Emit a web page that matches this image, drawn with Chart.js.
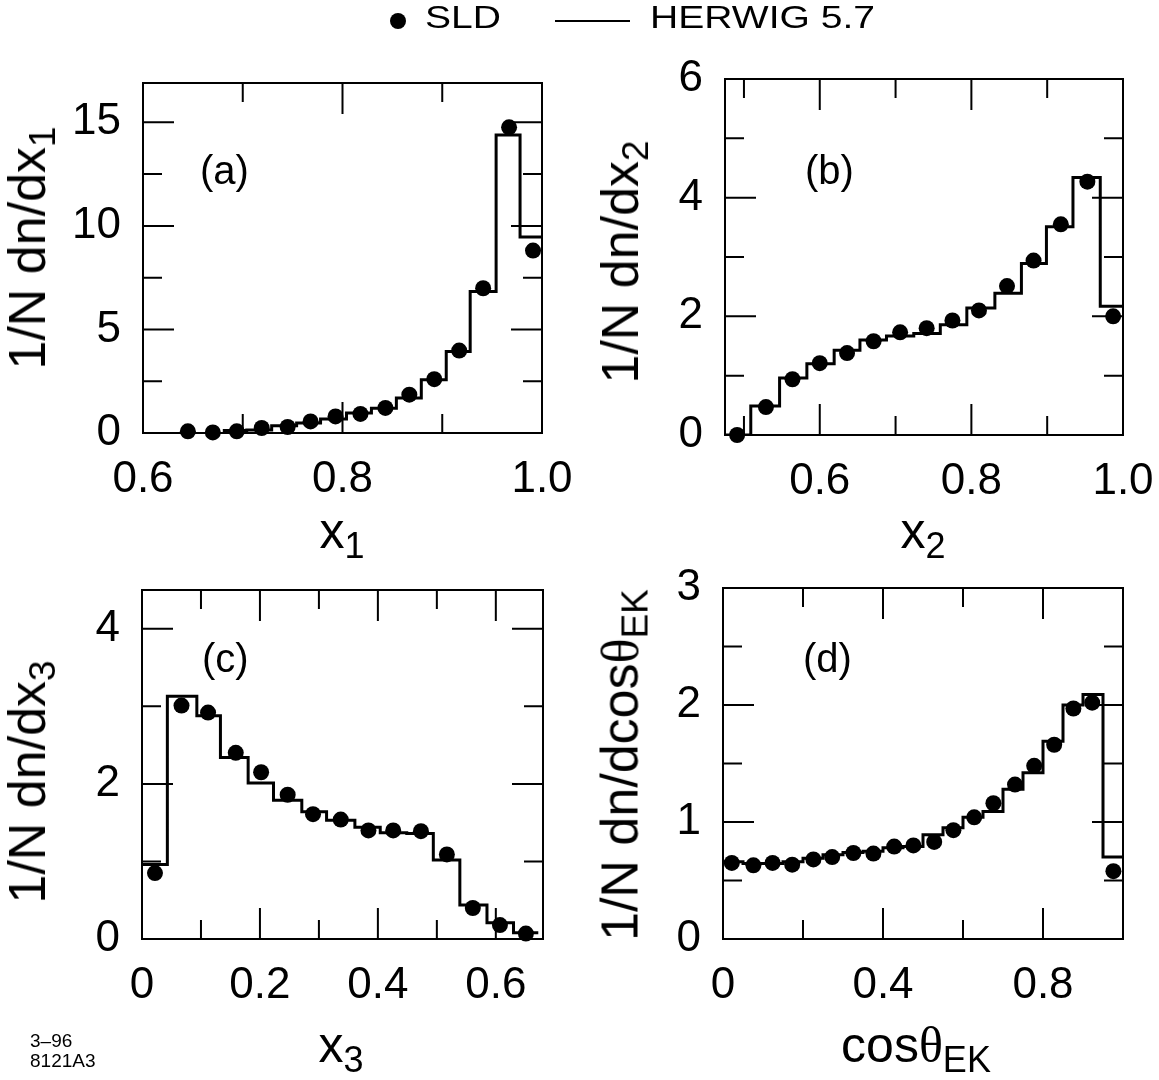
<!DOCTYPE html>
<html>
<head>
<meta charset="utf-8">
<script src="https://cdn.jsdelivr.net/npm/chart.js@4.4.0/dist/chart.umd.min.js"></script>
<style>
  html, body { margin: 0; padding: 0; background: #fff; }
  #page { position: relative; width: 1159px; height: 1080px; overflow: hidden;
          font-family: 'Liberation Sans', Arial, sans-serif; color: #000; }
  canvas { position: absolute; }
  .t { position: absolute; white-space: nowrap; line-height: 1; }
  .xt { font-size: 50px; transform: translateX(-50%); }
  .yt { font-size: 52px; transform: translate(-50%, -50%) rotate(-90deg); }
  .sub { font-size: 36px; line-height: 0; vertical-align: -10px; }
  .yt .sub { font-size: 37px; }
  .pl { font-size: 40px; }
  .leg { font-size: 31px; transform: scaleX(1.26); transform-origin: left top; }
  .small { font-size: 19px; }
  .th { font-family: 'Liberation Serif', 'Times New Roman', serif; }
</style>
</head>
<body>
<div id="page">
  <canvas id="chartA" width="620" height="540" style="left:0;top:0"></canvas>
  <canvas id="chartB" width="640" height="540" style="left:560px;top:0"></canvas>
  <canvas id="chartC" width="579" height="540" style="left:0;top:540px"></canvas>
  <canvas id="chartD" width="579" height="540" style="left:580px;top:540px"></canvas>

  <!-- legend -->
  <div style="position:absolute;left:390px;top:13px;width:16px;height:16px;border-radius:50%;background:#000"></div>
  <div class="t leg" style="left:425px;top:2px">SLD</div>
  <div style="position:absolute;left:555px;top:20px;width:75px;height:2px;background:#000"></div>
  <div class="t leg" style="left:650px;top:2px">HERWIG 5.7</div>

  <!-- panel labels -->
  <div class="t pl" style="left:200px;top:150px">(a)</div>
  <div class="t pl" style="left:805px;top:150px">(b)</div>
  <div class="t pl" style="left:202px;top:638px">(c)</div>
  <div class="t pl" style="left:803px;top:638px">(d)</div>

  <!-- axis titles -->
  <div class="t xt" style="left:342px;top:506px">x<span class="sub">1</span></div>
  <div class="t xt" style="left:923px;top:506px">x<span class="sub">2</span></div>
  <div class="t xt" style="left:341px;top:1020px">x<span class="sub">3</span></div>
  <div class="t xt" style="left:916px;top:1020px">cos<span class="th">θ</span><span class="sub">EK</span></div>

  <div class="t yt" style="left:27px;top:248px">1/N dn/dx<span class="sub">1</span></div>
  <div class="t yt" style="left:620px;top:262px">1/N dn/dx<span class="sub">2</span></div>
  <div class="t yt" style="left:27px;top:782px">1/N dn/dx<span class="sub">3</span></div>
  <div class="t yt" style="left:620px;top:765px">1/N dn/dcos<span class="th">θ</span><span class="sub">EK</span></div>

  <div class="t small" style="left:30px;top:1031px">3–96</div>
  <div class="t small" style="left:30px;top:1051px">8121A3</div>
</div>

<script>
// ---- (a) x1 ----
const x1Centers = [0.645, 0.670, 0.694, 0.719, 0.745, 0.768, 0.793, 0.818, 0.843, 0.867, 0.892, 0.917, 0.941, 0.967, 0.991];
const x1Sld     = [0.08, 0.03, 0.08, 0.24, 0.29, 0.56, 0.80, 0.92, 1.21, 1.85, 2.60, 3.98, 6.99, 14.76, 8.81];
const x1Edges   = [0.680, 0.704, 0.729, 0.754, 0.778, 0.804, 0.829, 0.854, 0.879, 0.904, 0.928, 0.954, 0.978, 1.0];
const x1Herwig  = [0.12, 0.15, 0.35, 0.48, 0.68, 0.96, 1.20, 1.69, 2.57, 3.94, 6.83, 14.39, 9.46];
const x1Ticks = [0.6, 0.8, 1.0], x1TickLabels = ['0.6', '0.8', '1.0'], x1Minor = [0.7, 0.9];
const y1Ticks = [0, 5, 10, 15], y1TickLabels = ['0', '5', '10', '15'], y1Minor = [2.5, 7.5, 12.5];

// ---- (b) x2 ----
const x2Centers = [0.491, 0.529, 0.564, 0.600, 0.636, 0.671, 0.706, 0.741, 0.775, 0.810, 0.847, 0.882, 0.918, 0.953, 0.987];
const x2Sld     = [0.0, 0.47, 0.94, 1.21, 1.38, 1.58, 1.73, 1.80, 1.93, 2.10, 2.51, 2.94, 3.55, 4.27, 2.00];
const x2Edges   = [0.475, 0.509, 0.547, 0.583, 0.619, 0.653, 0.688, 0.724, 0.759, 0.794, 0.831, 0.866, 0.899, 0.934, 0.970, 1.0];
const x2Herwig  = [0.0, 0.49, 0.96, 1.20, 1.43, 1.60, 1.67, 1.71, 1.86, 2.14, 2.39, 2.89, 3.51, 4.34, 2.17];
const x2Ticks = [0.6, 0.8, 1.0], x2TickLabels = ['0.6', '0.8', '1.0'], x2Minor = [0.5, 0.7, 0.9];
const y2Ticks = [0, 2, 4, 6], y2TickLabels = ['0', '2', '4', '6'], y2Minor = [1, 3, 5];

// ---- (c) x3 ----
const x3Centers = [0.022, 0.067, 0.112, 0.159, 0.202, 0.247, 0.290, 0.337, 0.384, 0.426, 0.473, 0.517, 0.561, 0.607, 0.651];
const x3Sld     = [0.85, 3.01, 2.92, 2.40, 2.15, 1.86, 1.61, 1.54, 1.40, 1.40, 1.39, 1.09, 0.40, 0.18, 0.07];
const x3Edges   = [0.0, 0.043, 0.093, 0.133, 0.180, 0.223, 0.271, 0.313, 0.361, 0.404, 0.449, 0.494, 0.539, 0.585, 0.630, 0.672];
const x3Herwig  = [0.96, 3.13, 2.88, 2.34, 2.01, 1.79, 1.64, 1.53, 1.44, 1.37, 1.36, 1.02, 0.44, 0.21, 0.08];
const x3Ticks = [0, 0.2, 0.4, 0.6], x3TickLabels = ['0', '0.2', '0.4', '0.6'], x3Minor = [0.1, 0.3, 0.5];
const y3Ticks = [0, 2, 4], y3TickLabels = ['0', '2', '4'], y3Minor = [1, 3];

// ---- (d) cos theta_EK ----
const cosCenters = [0.022, 0.076, 0.124, 0.173, 0.226, 0.273, 0.326, 0.376, 0.428, 0.476, 0.528, 0.576, 0.628, 0.676, 0.730, 0.778, 0.828, 0.876, 0.923, 0.976];
const cosSld     = [0.65, 0.63, 0.65, 0.635, 0.68, 0.70, 0.735, 0.73, 0.79, 0.80, 0.83, 0.93, 1.04, 1.16, 1.32, 1.48, 1.66, 1.97, 2.02, 0.58];
const cosEdges   = [0, 0.05, 0.1, 0.15, 0.2, 0.25, 0.3, 0.35, 0.4, 0.45, 0.5, 0.55, 0.6, 0.65, 0.7, 0.75, 0.8, 0.85, 0.9, 0.95, 1.0];
const cosHerwig  = [0.66, 0.645, 0.645, 0.66, 0.69, 0.72, 0.74, 0.75, 0.78, 0.79, 0.89, 0.95, 1.04, 1.09, 1.28, 1.42, 1.69, 2.00, 2.09, 0.70];
const cosTicks = [0, 0.4, 0.8], cosTickLabels = ['0', '0.4', '0.8'], cosMinor = [0.2, 0.6];
const y4Ticks = [0, 1, 2, 3], y4TickLabels = ['0', '1', '2', '3'], y4Minor = [0.5, 1.5, 2.5];

Chart.defaults.font.family = "'Liberation Sans', Arial, sans-serif";
Chart.defaults.color = '#000';

// frame box with inward ticks on all four sides
const frameTicks = {
    id: 'frameTicks',
    afterDatasetsDraw(chart, args, opts) {
        const ctx = chart.ctx;
        const a = chart.chartArea;
        const xs = chart.scales.x, ys = chart.scales.y;
        ctx.save();
        ctx.strokeStyle = '#000';
        ctx.lineWidth = 2;
        ctx.strokeRect(a.left, a.top, a.right - a.left, a.bottom - a.top);
        ctx.beginPath();
        const xMark = (vals, len) => vals.forEach(v => {
            const p = xs.getPixelForValue(v);
            if (p < a.left + 2 || p > a.right - 2) return;
            ctx.moveTo(p, a.bottom); ctx.lineTo(p, a.bottom - len);
            ctx.moveTo(p, a.top); ctx.lineTo(p, a.top + len);
        });
        const yMark = (vals, len) => vals.forEach(v => {
            const p = ys.getPixelForValue(v);
            if (p < a.top + 2 || p > a.bottom - 2) return;
            ctx.moveTo(a.left, p); ctx.lineTo(a.left + len, p);
            ctx.moveTo(a.right, p); ctx.lineTo(a.right - len, p);
        });
        xMark(opts.xMajor, 31); xMark(opts.xMinor, 19);
        yMark(opts.yMajor, 31); yMark(opts.yMinor, 19);
        ctx.stroke();
        ctx.restore();
    }
};

function histPoints(edges, values) {
    const pts = values.map((v, i) => ({ x: edges[i], y: v }));
    pts.push({ x: edges[edges.length - 1], y: values[values.length - 1] });
    return pts;
}

function makePanel(id, box, xr, yr, centers, sld, edges, herwig, xt, xl, xm, yt, yl, ym) {
    return new Chart(document.getElementById(id), {
        type: 'scatter',
        data: {
            datasets: [{
                label: 'SLD',
                data: centers.map((x, i) => ({ x: x, y: sld[i] })),
                pointRadius: 8,
                pointBackgroundColor: '#000',
                pointBorderWidth: 0,
                clip: false
            }, {
                label: 'HERWIG 5.7',
                data: histPoints(edges, herwig),
                showLine: true,
                stepped: true,
                borderColor: '#000',
                borderWidth: 3,
                pointRadius: 0,
                fill: false
            }]
        },
        options: {
            responsive: false,
            animation: false,
            devicePixelRatio: 1,
            layout: { padding: { left: 0, top: box.top, right: box.right, bottom: 0 } },
            plugins: {
                legend: { display: false },
                tooltip: { enabled: false },
                frameTicks: { xMajor: xt, xMinor: xm, yMajor: yt, yMinor: ym }
            },
            scales: {
                x: {
                    type: 'linear',
                    min: xr[0],
                    max: xr[1],
                    afterBuildTicks: s => { s.ticks = xt.map(v => ({ value: v })); },
                    afterFit: s => { s.height = box.xh; },
                    ticks: {
                        autoSkip: false,
                        maxRotation: 0,
                        minRotation: 0,
                        padding: 12,
                        font: { size: 44 },
                        callback: (v, i) => xl[i]
                    },
                    grid: { display: false },
                    border: { display: false }
                },
                y: {
                    type: 'linear',
                    min: yr[0],
                    max: yr[1],
                    afterBuildTicks: s => { s.ticks = yt.map(v => ({ value: v })); },
                    afterFit: s => { s.width = box.yw; },
                    ticks: {
                        autoSkip: false,
                        padding: 14,
                        font: { size: 44 },
                        callback: (v, i) => yl[i]
                    },
                    grid: { display: false },
                    border: { display: false }
                }
            }
        },
        plugins: [frameTicks]
    });
}

makePanel('chartA', { top: 83, right: 78, yw: 143, xh: 107 }, [0.6, 1.0], [0, 16.9],
    x1Centers, x1Sld, x1Edges, x1Herwig, x1Ticks, x1TickLabels, x1Minor, y1Ticks, y1TickLabels, y1Minor);
makePanel('chartB', { top: 79, right: 77, yw: 165, xh: 105 }, [0.475, 1.0], [0, 6],
    x2Centers, x2Sld, x2Edges, x2Herwig, x2Ticks, x2TickLabels, x2Minor, y2Ticks, y2TickLabels, y2Minor);
makePanel('chartC', { top: 50, right: 36, yw: 142, xh: 141 }, [0, 0.68], [0, 4.5],
    x3Centers, x3Sld, x3Edges, x3Herwig, x3Ticks, x3TickLabels, x3Minor, y3Ticks, y3TickLabels, y3Minor);
makePanel('chartD', { top: 48, right: 36, yw: 143, xh: 141 }, [0, 1.0], [0, 3],
    cosCenters, cosSld, cosEdges, cosHerwig, cosTicks, cosTickLabels, cosMinor, y4Ticks, y4TickLabels, y4Minor);
</script>
</body>
</html>
